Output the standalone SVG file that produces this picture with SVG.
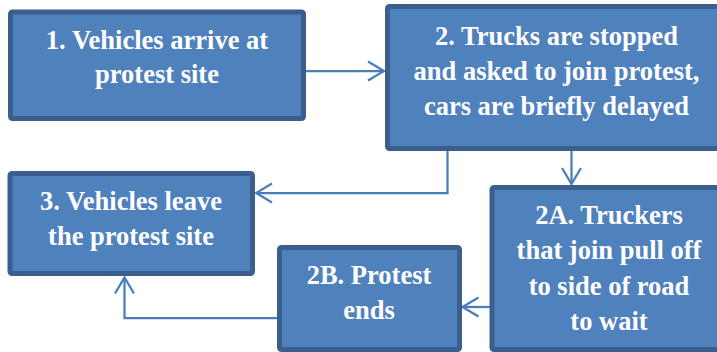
<svg xmlns="http://www.w3.org/2000/svg" width="717" height="352" viewBox="0 0 717 352">
<defs>
<style>
.box{fill:#4f81bd;stroke:#3a5f8e;stroke-width:5}
.t{font-family:"Liberation Serif","Times New Roman",serif;font-weight:bold;font-size:26.5px;fill:#ffffff;text-anchor:middle}
.c{fill:none;stroke:#4a7ebb;stroke-width:2.25;marker-end:url(#ah)}
</style>
<marker id="ah" markerUnits="userSpaceOnUse" markerWidth="24" markerHeight="24" viewBox="-18 -12 20 24" refX="0" refY="0" orient="auto">
<path d="M-16,-9.5 L0,0 L-16,9.5" fill="none" stroke="#4a7ebb" stroke-width="2.25"/>
</marker>
</defs>
<rect width="717" height="352" fill="#ffffff"/>
<g id="connectors">
<path class="c" d="M306,71 H384"/>
<path class="c" d="M447.5,151 V193 H256"/>
<path class="c" d="M571.5,151 V184"/>
<path class="c" d="M490,307 H462.5"/>
<path class="c" d="M277,318 H124.5 V277.5"/>
</g>
<g id="n1">
<rect class="box" x="10.5" y="12" width="293" height="106.5" rx="2"/>
<text class="t" x="157" y="49">1. Vehicles arrive at</text>
<text class="t" x="157" y="83">protest site</text>
</g>
<g id="n2">
<rect class="box" x="387.5" y="6.5" width="338" height="142" rx="2"/>
<text class="t" x="556.5" y="44.5">2. Trucks are stopped</text>
<text class="t" x="556.5" y="79.5">and asked to join protest,</text>
<text class="t" x="556.5" y="114.5">cars are briefly delayed</text>
</g>
<g id="n3">
<rect class="box" x="10" y="173.5" width="242.5" height="100" rx="2"/>
<text class="t" x="131" y="210">3. Vehicles leave</text>
<text class="t" x="131" y="245">the protest site</text>
</g>
<g id="n2A">
<rect class="box" x="492" y="187.5" width="234" height="162" rx="2"/>
<text class="t" x="609" y="223.5">2A. Truckers</text>
<text class="t" x="609" y="259">that join pull off</text>
<text class="t" x="609" y="294.5">to side of road</text>
<text class="t" x="609" y="329.5">to wait</text>
</g>
<g id="n2B">
<rect class="box" x="279.5" y="247.5" width="180" height="102" rx="2"/>
<text class="t" x="369" y="283.5">2B. Protest</text>
<text class="t" x="369" y="318.5">ends</text>
</g>
</svg>
